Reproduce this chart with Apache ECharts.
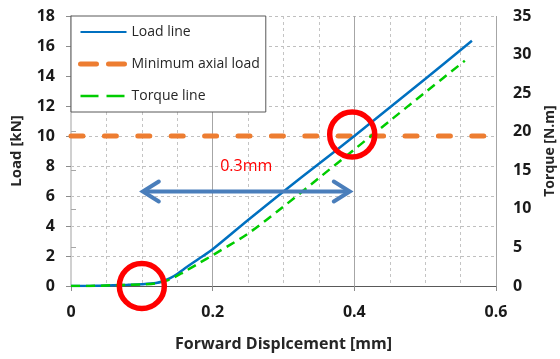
<!DOCTYPE html>
<html><head><meta charset="utf-8">
<script src="https://cdn.jsdelivr.net/npm/echarts@6/dist/echarts.min.js"></script>
<style>html,body{margin:0;padding:0;background:#fff}#c{width:560px;height:359px}</style>
</head><body><div id="c"></div>
<script>
// ---- data ----
const loadX = [0, 0.02, 0.04, 0.06, 0.08, 0.10, 0.12, 0.13, 0.14, 0.15, 0.16, 0.18, 0.20, 0.25, 0.30, 0.35, 0.40, 0.45, 0.50, 0.566];
const loadY = [0, 0.0, 0.02, 0.05, 0.08, 0.12, 0.2, 0.32, 0.52, 0.8, 1.15, 1.8, 2.45, 4.4, 6.3, 8.15, 10.0, 11.9, 13.8, 16.35];
const torqueX = [0, 0.02, 0.04, 0.06, 0.08, 0.10, 0.12, 0.14, 0.16, 0.18, 0.20, 0.25, 0.30, 0.35, 0.40, 0.45, 0.50, 0.556];
const torqueY = [0, 0.0, 0.04, 0.1, 0.15, 0.19, 0.35, 0.87, 1.85, 2.92, 3.99, 6.8, 10.3, 14.0, 17.7, 21.4, 25.1, 29.2];
const minLoadX = [0, 0.59];
const minLoadY = [10, 10];
const circleX = [0.1, 0.397];
const circleY = [0, 10.1];
const arrowFrom = 0.1, arrowTo = 0.395, arrowLevel = 6.3;
const noteText = '0.3mm', noteX = 0.2474, noteY = 7.95;
const xTitle = 'Forward Displcement [mm]';
const leftTitle = 'Load [kN]';
const rightTitle = 'Torque [N.m]';
const seriesNames = ['Load line', 'Minimum axial load', 'Torque line'];

const zip = (a, b) => a.map((v, i) => [v, b[i]]);
const FONT = '"Open Sans", "Noto Sans", sans-serif';
const chart = echarts.init(document.getElementById('c'), null, {renderer: 'canvas'});

chart.setOption({
  animation: false,
  backgroundColor: '#fff',
  grid: {left: 71, right: 64, top: 16, bottom: 73, containLabel: false, outerBoundsMode: 'none'},
  legend: {
    data: [
      {name: seriesNames[0]},
      {name: seriesNames[1], lineStyle: {width: 5, type: [16, 12], cap: 'round'}},
      {name: seriesNames[2], lineStyle: {width: 2.5, type: [18, 8]}}
    ],
    orient: 'vertical',
    left: 71, top: 16,
    padding: [9, 6, 9, 7],
    itemGap: 18,
    itemWidth: 46, itemHeight: 14,
    backgroundColor: '#fff',
    borderColor: '#595959', borderWidth: 1,
    itemStyle: {opacity: 0},
    textStyle: {fontFamily: FONT, fontSize: 14, color: '#262626'},
    z: 20
  },
  xAxis: [{
    type: 'value', min: 0, max: 0.6, interval: 0.2,
    name: xTitle, nameLocation: 'middle', nameGap: 50,
    nameTextStyle: {fontFamily: FONT, fontSize: 16, fontWeight: 'bold', color: '#262626'},
    axisLine: {show: true, lineStyle: {color: '#8c8c8c', width: 1}},
    axisTick: {show: true, inside: false, length: 5, lineStyle: {color: '#8c8c8c'}},
    axisLabel: {margin: 18, fontFamily: FONT, fontSize: 16, fontWeight: 'bold', color: '#1a1a1a',
      formatter: v => v === 0 ? '0' : v.toFixed(1)},
    splitLine: {show: true, lineStyle: {color: '#a6a6a6', width: 1}},
    minorTick: {show: false, splitNumber: 4},
    minorSplitLine: {show: true, lineStyle: {color: '#c4c4c4', type: [3, 3], width: 1}}
  }, {
    type: 'value', min: 0, max: 0.6, position: 'top',
    axisLine: {show: true, lineStyle: {color: '#595959', width: 1}},
    axisTick: {show: false}, axisLabel: {show: false}, splitLine: {show: false}
  }],
  yAxis: [{
    type: 'value', min: 0, max: 18, interval: 2,
    name: leftTitle, nameLocation: 'middle', nameGap: 47, nameRotate: 90,
    nameTextStyle: {fontFamily: FONT, fontSize: 15, fontWeight: 'bold', color: '#262626'},
    axisLine: {show: true, lineStyle: {color: '#bfbfbf', width: 1.5}},
    axisTick: {show: true, inside: false, length: 5, lineStyle: {color: '#8c8c8c'}},
    axisLabel: {margin: 16, fontFamily: FONT, fontSize: 16, fontWeight: 'bold', color: '#1a1a1a'},
    splitLine: {show: true, lineStyle: {color: '#bfbfbf', type: [3, 3], width: 1}}
  }, {
    type: 'value', min: 0, max: 35, interval: 5, position: 'right',
    name: rightTitle, nameLocation: 'middle', nameGap: 47, nameRotate: 90,
    nameTextStyle: {fontFamily: FONT, fontSize: 14, fontWeight: 'bold', color: '#262626'},
    axisLine: {show: true, lineStyle: {color: '#d0d0d0', width: 2}},
    axisTick: {show: true, inside: false, length: 5, lineStyle: {color: '#a6a6a6'}},
    axisLabel: {margin: 17, fontFamily: FONT, fontSize: 16, fontWeight: 'bold', color: '#1a1a1a'},
    splitLine: {show: false}
  }],
  series: [{
    name: seriesNames[1], type: 'line', data: zip(minLoadX, minLoadY),
    symbol: 'none', z: 2,
    lineStyle: {color: '#ED7D31', width: 5, type: [12, 21.4], cap: 'round'},
    itemStyle: {color: '#ED7D31'}
  }, {
    name: seriesNames[0], type: 'line', data: zip(loadX, loadY),
    symbol: 'none', smooth: 0.3, z: 3,
    lineStyle: {color: '#0070C0', width: 2.5},
    itemStyle: {color: '#0070C0'}
  }, {
    name: seriesNames[2], type: 'line', data: zip(torqueX, torqueY), yAxisIndex: 1,
    symbol: 'none', smooth: 0.3, z: 4,
    lineStyle: {color: '#00CC00', width: 2.5, type: [9, 6]},
    itemStyle: {color: '#00CC00'}
  }, {
    name: 'circles', type: 'scatter', data: zip(circleX, circleY), z: 8,
    symbol: 'circle', symbolSize: 45, silent: true,
    itemStyle: {color: 'rgba(0,0,0,0)', borderColor: '#FF0000', borderWidth: 5.5, opacity: 1}
  }, {
    name: 'annotation', type: 'custom', z: 9, silent: true,
    data: [[arrowFrom, arrowLevel, arrowTo, noteX, noteY]],
    renderItem: (params, api) => {
      const p1 = api.coord([api.value(0), api.value(1)]);
      const p2 = api.coord([api.value(2), api.value(1)]);
      const pt = api.coord([api.value(3), api.value(4)]);
      const hx = 17, hy = 10, col = '#4A7EBB', lw = 4;
      return {type: 'group', children: [
        {type: 'line', shape: {x1: p1[0] + 2, y1: p1[1], x2: p2[0] - 2, y2: p2[1]},
          style: {stroke: col, lineWidth: lw}},
        {type: 'polyline', shape: {points: [[p1[0] + hx, p1[1] - hy], [p1[0] + 1, p1[1]], [p1[0] + hx, p1[1] + hy]]},
          style: {stroke: col, lineWidth: lw, fill: null, lineJoin: 'miter', lineCap: 'round'}},
        {type: 'polyline', shape: {points: [[p2[0] - hx, p2[1] - hy], [p2[0] - 1, p2[1]], [p2[0] - hx, p2[1] + hy]]},
          style: {stroke: col, lineWidth: lw, fill: null, lineJoin: 'miter', lineCap: 'round'}},
        {type: 'text', x: pt[0], y: pt[1],
          style: {text: noteText, fill: '#FF0000', fontSize: 16, fontFamily: FONT, align: 'center', verticalAlign: 'middle'}}
      ]};
    }
  }]
});
</script>
</body></html>
